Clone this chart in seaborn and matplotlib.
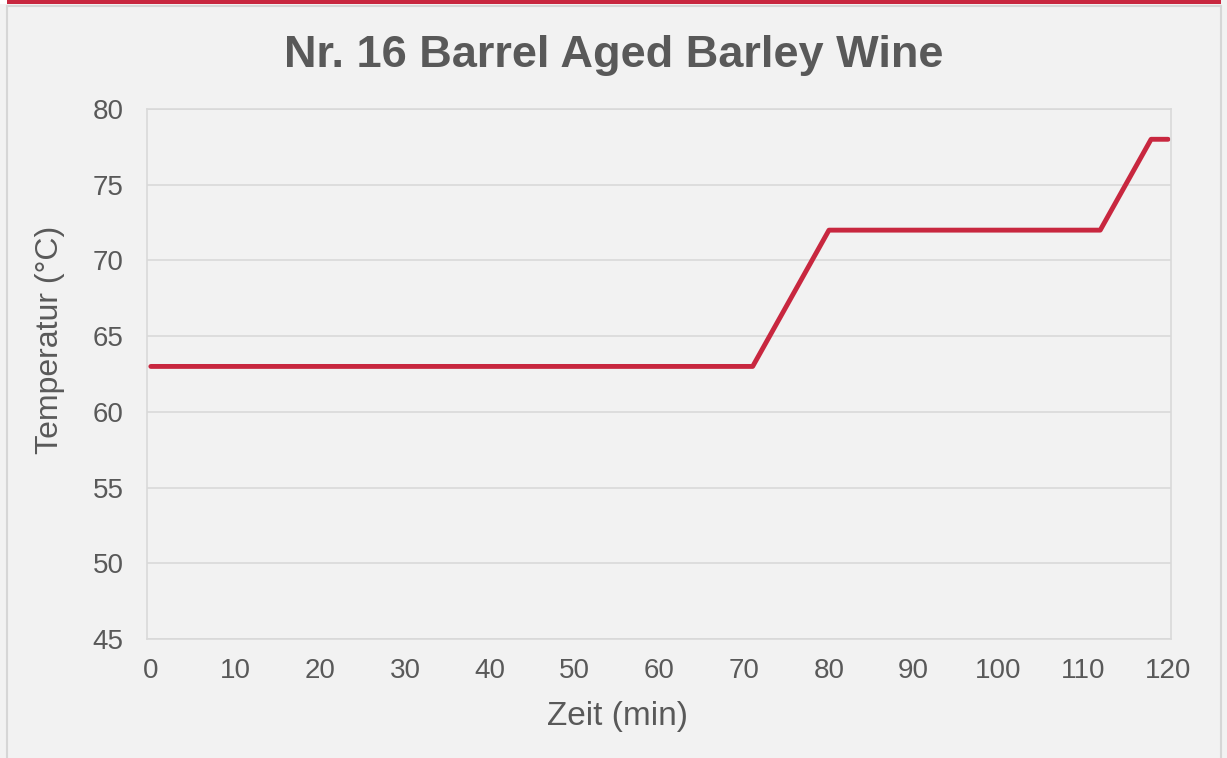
import pandas as pd
import matplotlib
matplotlib.use("Agg")
import matplotlib.pyplot as plt
from matplotlib.patches import Rectangle
from matplotlib.lines import Line2D
import seaborn as sns

# Maischplan: Zeit (min) und Temperatur (°C)
zeit = [0, 71, 80, 112, 118, 120]
temperatur = [63, 63, 72, 72, 78, 78]
x_ticks = [0, 10, 20, 30, 40, 50, 60, 70, 80, 90, 100, 110, 120]
y_ticks = [45, 50, 55, 60, 65, 70, 75, 80]

df = pd.DataFrame({"Zeit": zeit, "Temperatur": temperatur})

bg = "#f2f2f2"
grey_txt = "#595959"
grid_col = "#d9d9d9"
red = "#c8273f"

sns.set_style("white", {"axes.facecolor": bg, "figure.facecolor": bg})
plt.rcParams["font.family"] = ["Liberation Sans", "DejaVu Sans"]

fig = plt.figure(figsize=(12.27, 7.58), dpi=100)
ax = fig.add_axes([147 / 1227, 1 - 639 / 758, (1171 - 147) / 1227, (639 - 109) / 758])

sns.lineplot(data=df, x="Zeit", y="Temperatur", ax=ax, color=red, linewidth=3.5)

ax.set_xlim(-0.45, 120.35)
ax.set_ylim(45, 80)
ax.set_xticks(x_ticks)
ax.set_yticks(y_ticks)
ax.tick_params(colors=grey_txt, labelsize=20, length=0)
ax.tick_params(axis="x", pad=14)
ax.tick_params(axis="y", pad=17)
ax.yaxis.grid(True, color=grid_col, linewidth=1.2)
ax.set_axisbelow(True)
for s in ax.spines.values():
    s.set_color(grid_col)
    s.set_linewidth(1.2)

ax.set_xlabel("Zeit (min)", fontsize=24, color=grey_txt, va="center")
ax.xaxis.set_label_coords(0.459, -0.147)
ax.set_ylabel("Temperatur (°C)", fontsize=23, color=grey_txt, va="center")
ax.yaxis.set_label_coords(-0.095, 0.564)
fig.text(614 / 1227, 1 - 56 / 758, "Nr. 16 Barrel Aged Barley Wine", fontsize=32.5,
         fontweight="bold", color=grey_txt, ha="center", va="center")

# Rahmen und roter Balken oben
fig.add_artist(Line2D([7 / 1227, 7 / 1227], [0, 1 - 6 / 758], transform=fig.transFigure,
                      color="#d6d6d6", linewidth=1.5))
fig.add_artist(Line2D([1221 / 1227, 1221 / 1227], [0, 1 - 6 / 758], transform=fig.transFigure,
                      color="#d6d6d6", linewidth=1.5))
fig.add_artist(Line2D([7 / 1227, 1221 / 1227], [1 - 6 / 758, 1 - 6 / 758], transform=fig.transFigure,
                      color="#d6d6d6", linewidth=1.5))
fig.add_artist(Rectangle((7 / 1227, 1 - 4 / 758), 1214 / 1227, 4 / 758, transform=fig.transFigure,
                         facecolor=red, edgecolor="none"))
fig.add_artist(Rectangle((0, 1 - 4 / 758), 7 / 1227, 4 / 758, transform=fig.transFigure,
                         facecolor="white", edgecolor="none"))

fig.savefig("out.png", dpi=100, facecolor=bg)
